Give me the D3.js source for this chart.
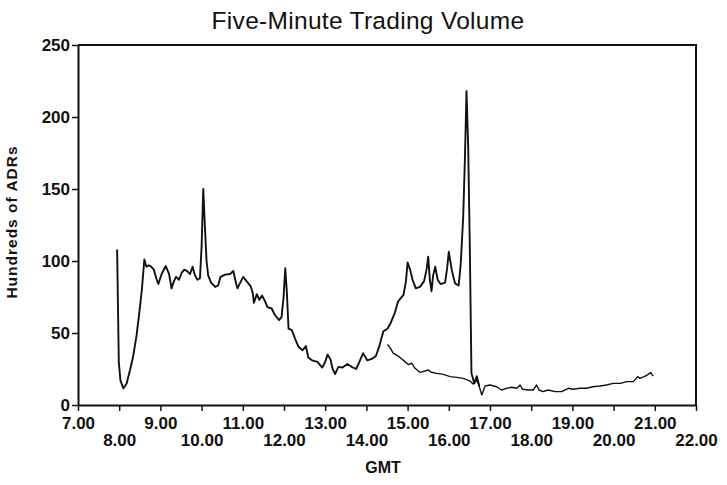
<!DOCTYPE html>
<html>
<head>
<meta charset="utf-8">
<script src="https://cdn.jsdelivr.net/npm/d3@7"></script>
<style>
  html, body { margin: 0; padding: 0; background: #fff; }
  svg { display: block; }
  text { font-family: "Liberation Sans", Arial, Helvetica, sans-serif; fill: #111; }
</style>
</head>
<body>
<svg id="chart" width="727" height="485"></svg>
<script>
// Morning-session series (hours GMT, hundreds of ADRs per five minutes)
const londonTimes = [7.95, 7.99, 8.03, 8.10, 8.18, 8.26, 8.34, 8.42, 8.48, 8.55, 8.61, 8.66, 8.72, 8.78, 8.84, 8.90, 8.95,
  9.03, 9.13, 9.21, 9.27, 9.33, 9.38, 9.45, 9.52, 9.58, 9.65, 9.72, 9.78, 9.84, 9.90, 9.96,
  10.00, 10.04, 10.08, 10.12, 10.16, 10.23, 10.33, 10.40, 10.46, 10.57, 10.69, 10.77, 10.84, 10.87, 10.93,
  11.01, 11.09, 11.19, 11.24, 11.27, 11.34, 11.40, 11.47, 11.54, 11.60, 11.70, 11.78, 11.88, 11.94, 11.99,
  12.03, 12.07, 12.11, 12.19, 12.27, 12.35, 12.45, 12.53, 12.59, 12.68, 12.81, 12.93,
  13.00, 13.06, 13.13, 13.18, 13.24, 13.32, 13.42, 13.54, 13.64, 13.75, 13.83, 13.92,
  14.02, 14.13, 14.23, 14.31, 14.41, 14.51, 14.59, 14.69, 14.77, 14.90, 14.96,
  15.00, 15.06, 15.12, 15.20, 15.30, 15.40, 15.46, 15.50, 15.54, 15.58, 15.62, 15.67, 15.73, 15.80, 15.91, 15.96,
  16.00, 16.07, 16.15, 16.24, 16.29, 16.35, 16.39, 16.43, 16.47, 16.51, 16.55, 16.62, 16.68, 16.74];
const londonVolume = [108, 30, 17, 11.5, 15, 24, 34, 48, 62, 80, 101, 96, 97, 96, 94, 88, 84,
  91, 96.5, 91, 81, 86, 89, 87, 92, 94, 93, 91, 96, 90, 87, 88,
  110, 150, 124, 100, 90, 85, 82, 83, 89, 90.5, 91, 93, 84, 81, 84.5,
  89, 86, 82.5, 78, 71, 77, 73, 76, 72, 68, 67, 62.5, 59, 61, 75,
  95, 78, 53, 52, 46, 40.5, 38, 41, 33, 31, 30, 26,
  30, 35, 31.5, 25, 21.5, 26.5, 26, 28.5, 26.5, 25, 30, 36,
  31, 32, 34, 40.5, 51, 53, 57, 64, 72, 76.5, 86,
  99, 94, 87, 81, 82, 86, 94, 103, 87, 79, 90, 96, 87, 84, 85, 95,
  106.5, 94, 84.5, 83, 98, 131, 170, 218, 180, 110, 22, 15, 20, 13];

// Afternoon-session series
const nyTimes = [14.51, 14.57, 14.65, 14.77, 14.90, 15.02, 15.10, 15.18, 15.30, 15.42, 15.50, 15.58, 15.71, 15.87,
  16.03, 16.19, 16.35, 16.51, 16.59, 16.66, 16.72, 16.80, 16.88,
  17.00, 17.16, 17.28, 17.40, 17.53, 17.65, 17.73, 17.79, 17.93,
  18.05, 18.13, 18.19, 18.29, 18.41, 18.58, 18.74, 18.90,
  19.02, 19.18, 19.34, 19.50, 19.67, 19.83, 19.99,
  20.16, 20.32, 20.48, 20.58, 20.64, 20.74, 20.81, 20.90, 20.96];
const nyVolume = [42, 40, 36, 34, 31, 28, 29, 25.5, 22.7, 23.6, 24.3, 22.7, 22, 21.3,
  19.7, 19.2, 18.5, 16.7, 14.6, 17.4, 14.6, 7, 13.2,
  13.9, 12.7, 10.4, 11.6, 12.3, 11.6, 13.9, 10.9, 10.4,
  10.4, 13.9, 10.4, 9.3, 10.4, 9.3, 9.3, 11.6,
  10.9, 11.6, 11.6, 12.7, 13.2, 13.9, 15,
  15, 16.2, 16.2, 19.7, 18.5, 19.7, 20.8, 22.5, 20];

// Axis ticks
const hourTicks = [7, 8, 9, 10, 11, 12, 13, 14, 15, 16, 17, 18, 19, 20, 21, 22];
const volumeTicks = [0, 50, 100, 150, 200, 250];

const svg = d3.select("#chart");
const plotLeft = 78, plotRight = 696, plotTop = 45, plotBottom = 405;

const x = d3.scaleLinear().domain([7, 22]).range([plotLeft, plotRight]);
const y = d3.scaleLinear().domain([0, 250]).range([plotBottom, plotTop]);

// Title
svg.append("text")
  .attr("x", 368).attr("y", 29)
  .attr("text-anchor", "middle")
  .attr("font-size", 24.5)
  .attr("letter-spacing", 0.3)
  .text("Five-Minute Trading Volume");

// Frame: top and right edges
svg.append("path")
  .attr("d", `M${plotLeft},${plotTop}H${plotRight}V${plotBottom}`)
  .attr("fill", "none").attr("stroke", "#111").attr("stroke-width", 2);

// X axis with alternating label rows
const xAxis = svg.append("g")
  .attr("transform", `translate(0,${plotBottom})`)
  .call(d3.axisBottom(x).tickValues(hourTicks).tickFormat(d3.format(".2f")).tickSize(6).tickSizeOuter(0));
xAxis.select(".domain").attr("stroke", "#111").attr("stroke-width", 2);
xAxis.selectAll(".tick line").attr("stroke", "#111").attr("stroke-width", 1.5);
xAxis.selectAll(".tick text")
  .attr("font-family", "'Liberation Sans', Arial, sans-serif")
  .attr("font-size", 17).attr("font-weight", "bold").attr("fill", "#111")
  .attr("dy", null)
  .attr("y", d => d % 2 === 1 ? 24 : 41);

// Y axis
const yAxis = svg.append("g")
  .attr("transform", `translate(${plotLeft},0)`)
  .call(d3.axisLeft(y).tickValues(volumeTicks).tickSize(6).tickPadding(2).tickSizeOuter(0));
yAxis.select(".domain").attr("stroke", "#111").attr("stroke-width", 2);
yAxis.selectAll(".tick line").attr("stroke", "#111").attr("stroke-width", 1.5);
yAxis.selectAll(".tick text")
  .attr("font-family", "'Liberation Sans', Arial, sans-serif")
  .attr("font-size", 17).attr("font-weight", "bold").attr("fill", "#111");

// Axis titles
svg.append("text")
  .attr("x", 383).attr("y", 473)
  .attr("text-anchor", "middle")
  .attr("font-size", 16).attr("font-weight", "bold")
  .text("GMT");

svg.append("text")
  .attr("transform", "translate(16.5,222) rotate(-90)")
  .attr("text-anchor", "middle")
  .attr("font-size", 15.5).attr("font-weight", "bold")
  .attr("letter-spacing", 1)
  .text("Hundreds of ADRs");

// Volume lines
const line = d3.line().x(d => x(d[0])).y(d => y(d[1]));

svg.append("path")
  .datum(d3.zip(nyTimes, nyVolume))
  .attr("d", line)
  .attr("fill", "none").attr("stroke", "#111").attr("stroke-width", 1.4)
  .attr("stroke-linejoin", "round");

svg.append("path")
  .datum(d3.zip(londonTimes, londonVolume))
  .attr("d", line)
  .attr("fill", "none").attr("stroke", "#111").attr("stroke-width", 1.9)
  .attr("stroke-linejoin", "round");
</script>
</body>
</html>
